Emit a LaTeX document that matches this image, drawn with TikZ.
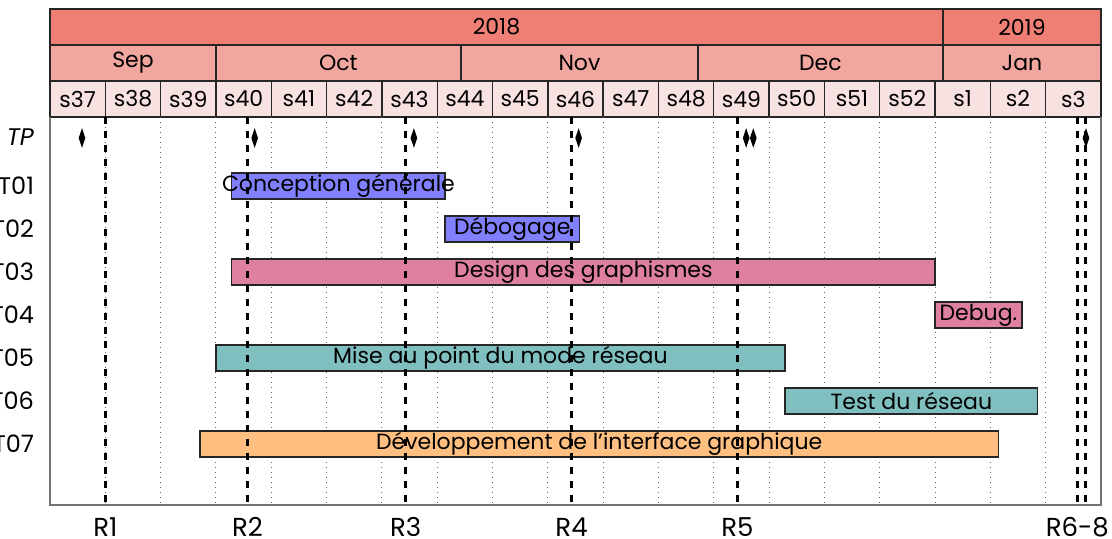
\documentclass[tikz,border=0pt]{standalone}
\usepackage{fontspec}
\setmainfont{Poppins}
\usetikzlibrary{shapes.geometric}
\definecolor{yearcol}{RGB}{239,127,116}
\definecolor{monthcol}{RGB}{241,166,160}
\definecolor{weekcol}{RGB}{248,226,225}

\begin{document}
\begin{tikzpicture}[x=0.5pt, y=-0.5pt, font=\fontsize{11}{13}\selectfont]
    \tikzstyle{cell}=[draw=black!85, line width=0.7pt]
    \tikzstyle{bar}=[draw=black!85, line width=0.7pt]
    \tikzstyle{grid}=[dotted, black!60, line width=0.5pt]
    \tikzstyle{review}=[dash pattern=on 3.5pt off 3.5pt, line width=1.4pt]
    \tikzstyle{frame}=[black!55, line width=1pt]
    \tikzstyle{rowlabel}=[anchor=east, font=\fontsize{12}{14}\selectfont]
    \tikzstyle{revlabel}=[font=\fontsize{13}{15}\selectfont]
    \tikzstyle{tp}=[diamond, fill=black, inner sep=0pt, minimum width=3.5pt, minimum height=10pt]
    \useasboundingbox (0,0) rectangle (1112,539);
      % row labels
      \node[rowlabel] (tp) at (41,137) {\textit{TP}};
      \foreach \k in {1,...,7}
        \node[rowlabel] (t\k) at (41,{143+43*\k}) {T0\k};
    \begin{scope}[shift={(50,0)}, x=3.951pt]
      % header: years, months, weeks
      \filldraw[cell, fill=yearcol] (0,9) rectangle (113,45);
      \filldraw[cell, fill=yearcol] (113,9) rectangle (133,45);
      \node (y18) at (56.5,27) {2018};
      \node (y19) at (123,27) {2019};
      \foreach \a/\b/\m in {0/21/Sep, 21/52/Oct, 52/82/Nov, 82/113/Dec, 113/133/Jan} {
        \filldraw[cell, fill=monthcol] (\a,45) rectangle (\b,81);
        \node (\m) at ({(\a+\b)/2},63) {\m};
      }
      \foreach \w [count=\i from 0] in {37,38,39,40,41,42,43,44,45,46,47,48,49,50,51,52,1,2,3} {
        \filldraw[cell, fill=weekcol] (7*\i,81) rectangle (7*\i+7,117);
        \node (s\w) at (7*\i+3.5,99) {s\w};
      }
      % grid and frame
      \foreach \i in {1,...,18}
        \draw[grid] (7*\i,117) -- (7*\i,505);
      \draw[frame] (0,117) -- (0,505) -- (133,505) -- (133,117);
      % tasks
      \foreach \n/\a/\b/\k/\c/\t in {
          conc/23/50/1/blue!50/Conception générale,
          debo/50/67/2/blue!50/Débogage,
          desi/23/112/3/purple!50/Design des graphismes,
          debu/112/123/4/purple!50/Debug.,
          mise/21/93/5/teal!50/Mise au point du mode réseau,
          test/93/125/6/teal!50/Test du réseau,
          inte/19/120/7/orange!50/Développement de l’interface graphique} {
        \filldraw[bar, fill=\c] (\a,{143+43*\k-13}) rectangle (\b,{143+43*\k+13});
        \node (\n) at ({(\a+\b)/2},{143+43*\k}) {\t};
      }
      % TP deliveries
      \foreach \d [count=\j] in {4.05,25.9,46.05,66.9,88.1,89,131.1}
        \node[tp] (tp\j) at (\d,138) {};
      % reviews
      \foreach \d in {7,25,45,66,87,130,131}
        \draw[review] (\d,117) -- (\d,505);
      \node[revlabel] (r1) at (7,527) {R1};
      \node[revlabel] (r2) at (25,527) {R2};
      \node[revlabel] (r3) at (45,527) {R3};
      \node[revlabel] (r4) at (66,527) {R4};
      \node[revlabel] (r5) at (87,527) {R5};
      \node[revlabel] (r68) at (130,527) {R6-8};
    \end{scope}
\end{tikzpicture}
\end{document}
